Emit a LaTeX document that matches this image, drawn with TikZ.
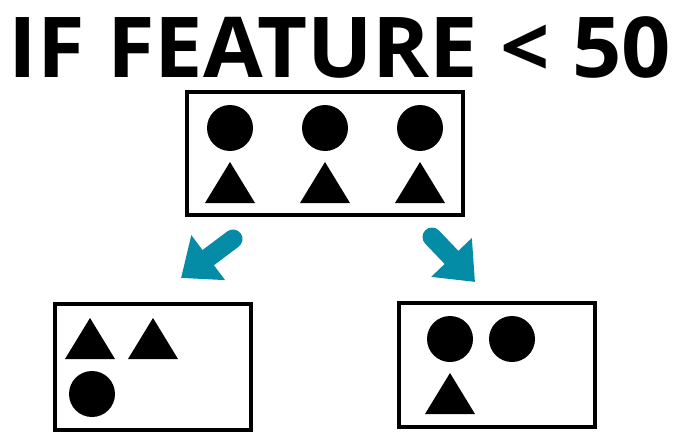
\documentclass[tikz,border=0pt]{standalone}
\usepackage{fontspec}
\setmainfont{Open Sans}
\usetikzlibrary{arrows.meta}
\definecolor{arrowteal}{RGB}{4,139,165}
\newcommand{\rad}{23}
\newcommand{\tri}[2]{\fill ({#1-25}, {#2+41}) -- (#1, #2) -- ({#1+25}, {#2+41}) -- cycle;}
\tikzset{
    box/.style={draw, line width=4pt, inner sep=0pt},
    split/.style={line width=19pt, line cap=round, arrowteal, -{Triangle[length=34pt, width=54pt]}},
}

\begin{document}
\begin{tikzpicture}[x=1pt, y=-1pt]

        \useasboundingbox (0, 0) rectangle (685, 447);

        \node (title) [anchor=base, font=\bfseries\fontsize{84}{84}\selectfont, xscale=1.03] at (340, 77) {IF FEATURE < 50};

        % boxes
        \node (all) [box, minimum width=276pt, minimum height=123pt] at (325, 153.5) {};
        \node (low) [box, minimum width=196pt, minimum height=126pt] at (153, 367) {};
        \node (high) [box, minimum width=196pt, minimum height=124pt] at (497, 365) {};

        % top box: three circles over three triangles
        \foreach \x in {230, 325, 420} {
            \fill (\x, 128) circle (\rad);
            \tri{\x}{162}
        }

        % left box
        \tri{90}{318}
        \tri{153}{318}
        \fill (92, 394) circle (\rad);

        % right box
        \fill (450, 339) circle (\rad);
        \fill (512, 339) circle (\rad);
        \tri{450}{373}

        % arrows
        \coordinate (lefttail) at (233, 239);
        \coordinate (lefttip) at (181, 278);
        \coordinate (righttail) at (432, 237);
        \coordinate (righttip) at (475, 282);

        \draw[split] (lefttail) -- (lefttip);
        \draw[split] (righttail) -- (righttip);

\end{tikzpicture}
\end{document}
